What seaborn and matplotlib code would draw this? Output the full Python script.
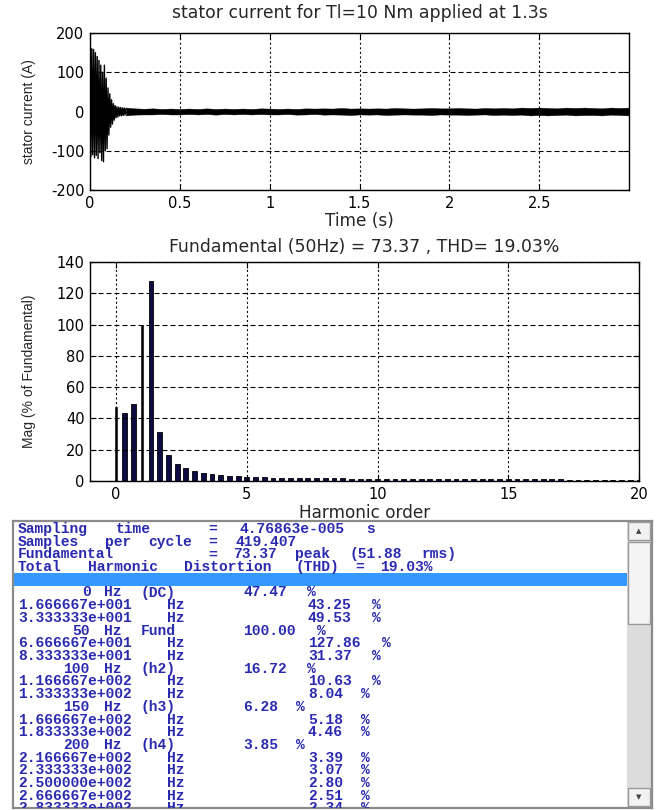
import re
import numpy as np
import pandas as pd
import matplotlib
matplotlib.use("Agg")
import matplotlib.pyplot as plt
import seaborn as sns

# ---------------- data ----------------
# transient peaks of the stator current (start-up)
transient_t = [0.000, 0.005, 0.010, 0.015, 0.020, 0.025, 0.030, 0.035, 0.040, 0.045,
               0.050, 0.055, 0.060, 0.065, 0.070, 0.075, 0.080, 0.085, 0.090, 0.095,
               0.100, 0.105, 0.110, 0.115, 0.120, 0.125, 0.130, 0.135, 0.140, 0.145,
               0.150, 0.155, 0.160, 0.165, 0.170, 0.175, 0.180, 0.185, 0.190, 0.195, 0.200]
transient_i = [165, -115, 160, -110, 158, -118, 150, -112, 140, -120,
               130, -105, 118, -125, 100, -128, 118, -100, 85, -95,
               60, -60, 45, -40, 30, -32, 20, -22, 15, -16,
               12, -14, 11, -11, 10, -11, 9, -10, 9, -9, 8]

# steady-state envelope of the current band (0.20 s to 3.00 s, every 0.05 s)
env_t = np.round(np.arange(0.20, 3.0001, 0.05), 2)
env_hi = [10, 8, 7, 8, 6.5, 7.5, 6.5,
          7.5, 6.5, 8, 6.5, 7.5, 6.5, 7.5, 6.5, 8, 7.5,
          6.5, 7.5, 6.5, 8, 7.5, 8, 7.5, 9, 7.5, 8,
          7.5, 8, 7.5, 9, 8, 7.5, 8, 9, 8, 8,
          9, 8, 7.5, 9, 8, 9, 8, 10, 9, 10,
          9, 8, 10, 9, 10, 9, 8, 10, 9, 10]
env_lo = [-10, -8, -7.5, -7.5, -6.5, -7.5, -7.5,
          -6.5, -7.5, -6.5, -8, -6.5, -7.5, -6.5, -7.5, -6.5, -7.5,
          -7.5, -6.5, -8, -7.5, -6.5, -8, -7.5, -8, -9, -7.5,
          -8, -7.5, -9, -8, -7.5, -8, -8, -9, -7.5, -8,
          -8, -9, -8, -7.5, -9, -8, -9, -8, -10, -9,
          -10, -9, -8, -10, -9, -9, -10, -8, -9, -10]

# harmonic spectrum (% of fundamental), every 1/3 harmonic from 0 to 20
harmonic_order = np.round(np.arange(61) / 3.0, 4)
magnitude = [47.47, 43.25, 49.53, 100.00, 127.86, 31.37, 16.72, 10.63, 8.04, 6.28,
             5.18, 4.46, 3.85, 3.39, 3.07, 2.80, 2.51, 2.34, 2.20, 2.08,
             1.98, 1.90, 1.83, 1.76, 1.70, 1.65, 1.60, 1.55, 1.51, 1.47,
             1.43, 1.40, 1.37, 1.34, 1.31, 1.29, 1.27, 1.25, 1.23, 1.21,
             1.19, 1.17, 1.15, 1.13, 1.11, 1.10, 1.08, 1.06, 1.05, 1.03,
             1.01, 1.00, 0.92, 0.90, 0.88, 0.86, 0.84, 0.82, 0.80, 0.78, 0.76]

header_labels = ["Sampling time", "Samples per cycle", "Fundamental"]
header_values = ["= 4.76863e-005 s", "= 419.407", "= 73.37 peak (51.88 rms)"]
thd_line = "Total Harmonic Distortion (THD) = 19.03%"
named_harmonics = {0: "0 Hz (DC)", 1: "50 Hz Fund", 2: "100 Hz (h2)",
                   3: "150 Hz (h3)", 4: "200 Hz (h4)"}
n_listed = 18

title_top = "stator current for Tl=10 Nm applied at 1.3s"
title_mid = "Fundamental (50Hz) = 73.37 , THD= 19.03%"

# ---------------- style ----------------
sns.set_theme(style="white")
plt.rcParams["font.family"] = ["DejaVu Sans"]
plt.rcParams["axes.unicode_minus"] = False
plt.rcParams["axes.edgecolor"] = "black"
plt.rcParams["axes.linewidth"] = 1.0
FS_TICK = 10.5
FS_TITLE = 12.4
FS_XLAB = 12.2
FS_YLAB = 10
YLAB_FONT = ["Liberation Sans", "DejaVu Sans"]

W, H = 658, 810
fig = plt.figure(figsize=(W / 100, H / 100), dpi=100)
fig.patch.set_facecolor("white")


def px_axes(left, top, right, bottom):
    return fig.add_axes([left / W, 1 - bottom / H, (right - left) / W, (bottom - top) / H])


def style_axes(ax):
    ax.xaxis.grid(True, color="black", linestyle=(0, (1.8, 2.3)), linewidth=0.8)
    ax.yaxis.grid(True, color="black", linestyle=(0, (4.5, 2.7)), linewidth=0.8)
    ax.set_axisbelow(False)
    ax.tick_params(direction="in", length=4, width=0.8, labelsize=FS_TICK, colors="black",
                   top=True, right=True, bottom=True, left=True, pad=4)
    for s in ax.spines.values():
        s.set_visible(True)
        s.set_color("black")
        s.set_linewidth(1.0)


# ---------------- top: stator current ----------------
ax1 = px_axes(90, 33, 629, 190)
sig = pd.DataFrame({"t": transient_t, "i": transient_i})
sns.lineplot(data=sig, x="t", y="i", estimator=None, sort=False, color="black",
             linewidth=1.0, ax=ax1)
ax1.fill_between(env_t, env_lo, env_hi, color="black", linewidth=0.3, edgecolor="black")
ax1.set_xlim(0, 3.0)
ax1.set_ylim(-200, 200)
ax1.set_xticks([0, 0.5, 1, 1.5, 2, 2.5])
ax1.set_xticklabels(["0", "0.5", "1", "1.5", "2", "2.5"])
ax1.set_yticks([-200, -100, 0, 100, 200])
style_axes(ax1)
ax1.set_xlabel("Time (s)", fontsize=FS_XLAB)
ax1.set_ylabel("stator current (A)", fontsize=FS_YLAB, family=YLAB_FONT)
ax1.xaxis.set_label_coords(0.5, -0.14)
ax1.yaxis.set_label_coords(-0.100, 0.5)
ax1.text(0.5, 1.127, title_top, transform=ax1.transAxes, ha="center", va="center",
         fontsize=FS_TITLE)

# ---------------- middle: spectrum ----------------
ax2 = px_axes(90, 262, 639, 481)
spec = pd.DataFrame({"order": harmonic_order, "mag": magnitude})
is_int = spec["order"].isin([0.0, 1.0])
sns.barplot(data=spec[~is_int], x="order", y="mag", native_scale=True, width=0.55,
            color="#0c0c42", saturation=1, edgecolor="black", linewidth=0.6,
            errorbar=None, ax=ax2)
sns.barplot(data=spec[is_int], x="order", y="mag", native_scale=True, width=0.08,
            color="black", saturation=1, edgecolor="black", linewidth=0.4,
            errorbar=None, ax=ax2)
ax2.set_xlim(-1, 20)
ax2.set_ylim(0, 140)
ax2.set_xticks([0, 5, 10, 15, 20])
ax2.set_xticklabels(["0", "5", "10", "15", "20"])
ax2.set_yticks(range(0, 141, 20))
style_axes(ax2)
ax2.set_xlabel("Harmonic order", fontsize=FS_XLAB)
ax2.set_ylabel("Mag (% of Fundamental)", fontsize=FS_YLAB, family=YLAB_FONT)
ax2.xaxis.set_label_coords(0.5, -0.105)
ax2.yaxis.set_label_coords(-0.098, 0.5)
ax2.text(0.5, 1.068, title_mid, transform=ax2.transAxes, ha="center", va="center",
         fontsize=FS_TITLE)

# ---------------- bottom: text list box ----------------
PL, PT, PR, PB = 13, 521, 652, 808
pax = px_axes(PL, PT, PR, PB)
pax.set_xlim(0, PR - PL)
pax.set_ylim(PB - PT, 0)
pax.set_xticks([])
pax.set_yticks([])
pax.grid(False)
pax.set_facecolor("white")
for s in pax.spines.values():
    s.set_visible(True)
    s.set_color("#8a8a8a")
    s.set_linewidth(1.6)

SB = 627 - PL  # scrollbar left (panel coords)
pw = PR - PL
ph = PB - PT
pax.add_patch(plt.Rectangle((0, 52), SB, 13, color="#3399ff", lw=0, zorder=1))
pax.add_patch(plt.Rectangle((SB, 0), pw - SB, ph, facecolor="#dcdcdc", edgecolor="none", zorder=2))
pax.add_patch(plt.Rectangle((SB + 1, 1), pw - SB - 3, 18, facecolor="#f2f2f2",
                            edgecolor="#9a9a9a", lw=1, zorder=3))
pax.add_patch(plt.Rectangle((SB + 1, 21), pw - SB - 3, 82, facecolor="#f4f4f4",
                            edgecolor="#9a9a9a", lw=1, zorder=3))
pax.add_patch(plt.Rectangle((SB + 1, ph - 20), pw - SB - 3, 18, facecolor="#f2f2f2",
                            edgecolor="#9a9a9a", lw=1, zorder=3))
pax.text(SB + (pw - SB) / 2 - 1, 10, "\u25b2", ha="center", va="center", fontsize=5,
         color="#404040", family="DejaVu Sans", zorder=4)
pax.text(SB + (pw - SB) / 2 - 1, ph - 11, "\u25bc", ha="center", va="center", fontsize=5,
         color="#404040", family="DejaVu Sans", zorder=4)

TXT = dict(family=["Liberation Mono", "DejaVu Sans Mono"], fontsize=10.5, color="#2a2ab0",
           fontweight="bold", va="center", clip_on=True, zorder=5)
CW = 10.5  # column width of the listing (px)


def put_mono(x, y, s, right=False):
    """Place a monospace line word by word on the listing's column grid.
    The outer word is anchored to the column edge, inner words are centred."""
    start = x - len(s) * CW if right else x
    words = list(re.finditer(r"\S+", s))
    for n, m in enumerate(words):
        w0 = start + m.start() * CW
        w1 = start + m.end() * CW
        if not right and n == 0:
            pax.text(w0, y, m.group(), ha="left", **TXT)
        elif right and n == len(words) - 1:
            pax.text(w1, y, m.group(), ha="right", **TXT)
        else:
            pax.text((w0 + w1) / 2, y, m.group(), ha="center", **TXT)


X0 = 18 - PL
LINE0 = 529 - PT
DY = 12.7
row = 0
for lab, val in zip(header_labels, header_values):
    y = LINE0 + row * DY
    put_mono(X0, y, lab)
    put_mono(208 - PL, y, val)
    row += 1
put_mono(X0, LINE0 + row * DY, thd_line)
row += 2  # highlighted blank row
for k in range(n_listed):
    y = LINE0 + row * DY
    if k % 3 == 0 and (k // 3) in named_harmonics:
        put_mono(18 - PL + 15 * CW, y, named_harmonics[k // 3], right=True)
        put_mono(243 - PL, y, f"{magnitude[k]:.2f} %")
    else:
        f = k * 50.0 / 3.0
        e = int(np.floor(np.log10(f)))
        put_mono(X0, y, f"{f / 10 ** e:.6f}e+{e:03d} Hz")
        put_mono(308 - PL, y, f"{magnitude[k]:.2f} %")
    row += 1

fig.savefig("out.png", dpi=100, facecolor="white")
